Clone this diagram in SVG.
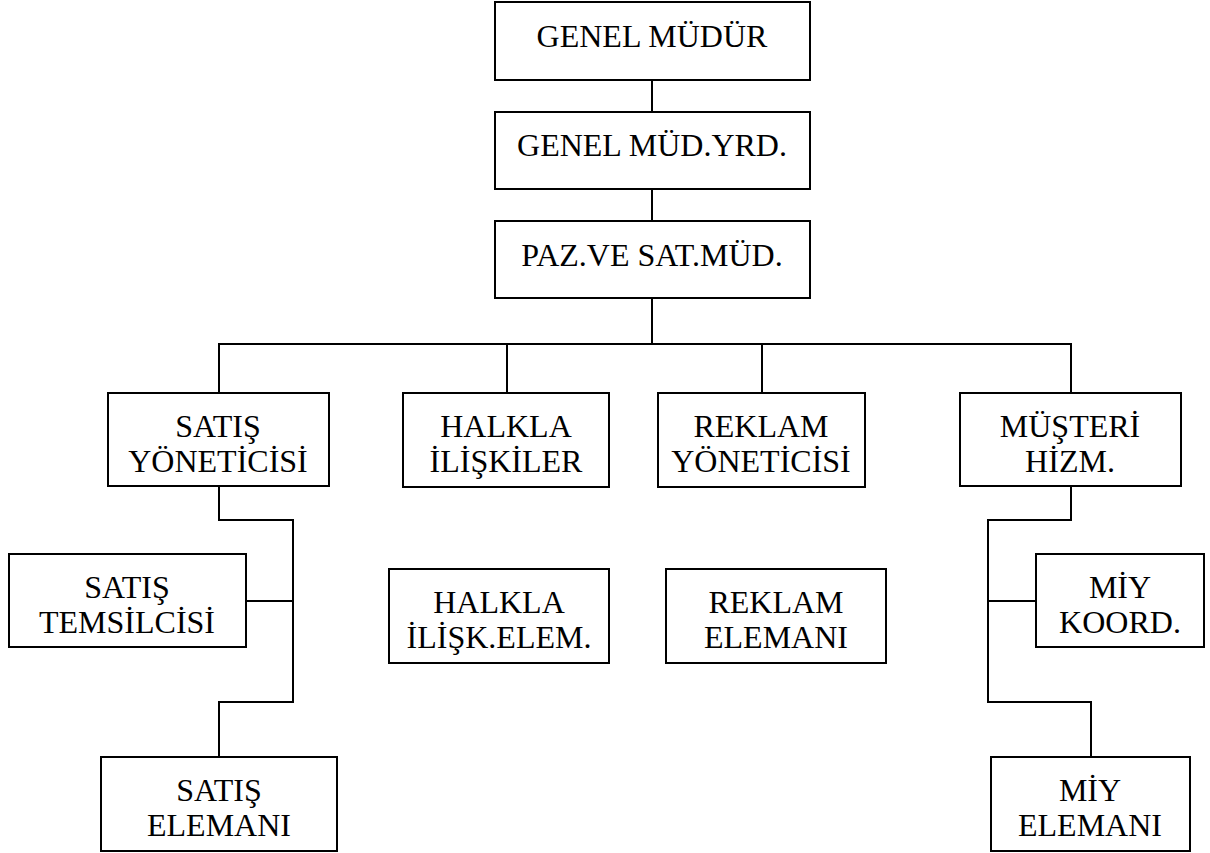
<svg xmlns="http://www.w3.org/2000/svg" width="1210" height="853" viewBox="0 0 1210 853">
  <style>
    .box { fill: #ffffff; stroke: #000000; stroke-width: 2; }
    .wire { fill: none; stroke: #000000; stroke-width: 2; }
    text { font-family: "Liberation Serif", "Times New Roman", serif; font-size: 32px; fill: #000000; text-anchor: middle; }
  </style>
  <rect width="1210" height="853" fill="#ffffff"/>

  <!-- connectors -->
  <g id="connectors" class="wire">
    <path d="M652 80 V112 M652 189 V221 M652 298 V344"/>
    <path d="M219 393 V344 H1071 V393 M507 344 V393 M762 344 V393"/>
    <path d="M219 486 V520 H293 V702 H219 V757 M246 601 H293"/>
    <path d="M1071 486 V520 H988 V702 H1091 V757 M988 601 H1036"/>
  </g>

  <g id="genel-mudur">
    <rect class="box" x="495" y="2" width="315" height="78"/>
    <text x="652" y="47">GENEL MÜDÜR</text>
  </g>
  <g id="genel-mud-yrd">
    <rect class="box" x="495" y="112" width="315" height="77"/>
    <text x="652" y="156">GENEL MÜD.YRD.</text>
  </g>
  <g id="paz-sat-mud">
    <rect class="box" x="495" y="221" width="315" height="77"/>
    <text x="652" y="266">PAZ.VE SAT.MÜD.</text>
  </g>

  <g id="satis-yoneticisi">
    <rect class="box" x="108" y="393" width="221" height="93"/>
    <text x="218" y="437">SATIŞ</text>
    <text x="218" y="472">YÖNETİCİSİ</text>
  </g>
  <g id="halkla-iliskiler">
    <rect class="box" x="403" y="393" width="206" height="94"/>
    <text x="506" y="437">HALKLA</text>
    <text x="506" y="472">İLİŞKİLER</text>
  </g>
  <g id="reklam-yoneticisi">
    <rect class="box" x="658" y="393" width="207" height="94"/>
    <text x="761" y="437">REKLAM</text>
    <text x="761" y="472">YÖNETİCİSİ</text>
  </g>
  <g id="musteri-hizm">
    <rect class="box" x="960" y="393" width="221" height="93"/>
    <text x="1070" y="437">MÜŞTERİ</text>
    <text x="1070" y="472">HİZM.</text>
  </g>

  <g id="satis-temsilcisi">
    <rect class="box" x="9" y="554" width="237" height="93"/>
    <text x="127" y="598">SATIŞ</text>
    <text x="127" y="633">TEMSİLCİSİ</text>
  </g>
  <g id="halkla-ilisk-elem">
    <rect class="box" x="389" y="569" width="220" height="94"/>
    <text x="499" y="613">HALKLA</text>
    <text x="499" y="648">İLİŞK.ELEM.</text>
  </g>
  <g id="reklam-elemani">
    <rect class="box" x="666" y="569" width="220" height="94"/>
    <text x="776" y="613">REKLAM</text>
    <text x="776" y="648">ELEMANI</text>
  </g>
  <g id="miy-koord">
    <rect class="box" x="1036" y="554" width="168" height="93"/>
    <text x="1120" y="598">MİY</text>
    <text x="1120" y="633">KOORD.</text>
  </g>

  <g id="satis-elemani">
    <rect class="box" x="101" y="757" width="236" height="94"/>
    <text x="219" y="801">SATIŞ</text>
    <text x="219" y="836">ELEMANI</text>
  </g>
  <g id="miy-elemani">
    <rect class="box" x="991" y="757" width="199" height="94"/>
    <text x="1090" y="801">MİY</text>
    <text x="1090" y="836">ELEMANI</text>
  </g>
</svg>
